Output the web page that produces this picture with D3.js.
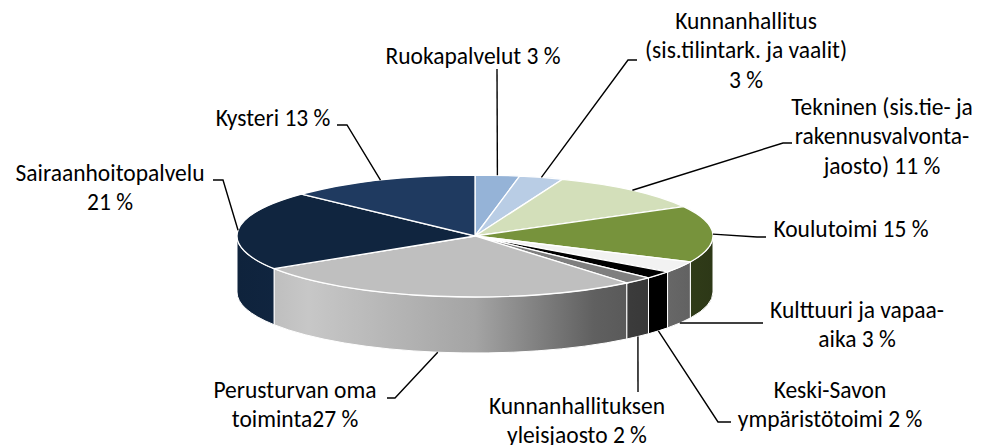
<!DOCTYPE html>
<html>
<head>
<meta charset="utf-8">
<script src="https://cdn.jsdelivr.net/npm/d3@7"></script>
<style>
  body { margin: 0; background: #fff; }
  svg text { font-family: Carlito, Calibri, Lato, sans-serif; font-size: 23.5px; fill: #000; }
</style>
</head>
<body>
<svg id="chart"></svg>
<script>
// data
const categories = ['Ruokapalvelut', 'Kunnanhallitus (sis.tilintark. ja vaalit)',
  'Tekninen (sis.tie- ja rakennusvalvonta-jaosto)', 'Koulutoimi', 'Kulttuuri ja vapaa-aika',
  'Keski-Savon ympäristötoimi', 'Kunnanhallituksen yleisjaosto', 'Perusturvan oma toiminta',
  'Sairaanhoitopalvelu', 'Kysteri'];
const values = [3, 3, 11, 15, 3, 2, 2, 27, 21, 13];
const labelLines = [
  ['Ruokapalvelut 3 %'],
  ['Kunnanhallitus', '(sis.tilintark. ja vaalit)', '3 %'],
  ['Tekninen (sis.tie- ja', 'rakennusvalvonta-', 'jaosto) 11 %'],
  ['Koulutoimi 15 %'],
  ['Kulttuuri ja vapaa-', 'aika 3 %'],
  ['Keski-Savon', 'ympäristötoimi 2 %'],
  ['Kunnanhallituksen', 'yleisjaosto 2 %'],
  ['Perusturvan oma', 'toiminta27 %'],
  ['Sairaanhoitopalvelu', '21 %'],
  ['Kysteri 13 %']
];
const colors = ['#95B3D7', '#B9CDE5', '#D3DFBA', '#77933C', '#F2F2F2',
  '#000000', '#7F7F7F', '#BFBFBF', '#10253F', '#1F3A60'];

// layout (label placement like the original chart)
const cfg = {width: 986, height: 445, cx: 475, cy: 236, rx: 238, ry: 61, depth: 56, lineH: 29.3};
const labelPos = [
  {x: 473, y: 64, path: [[497, 69]]},
  {x: 746, y: 29, path: [[628, 60], [637, 60]]},
  {x: 882, y: 115, path: [[783, 143], [792, 143]]},
  {x: 851, y: 237, path: [[757, 237], [766, 237]]},
  {x: 857, y: 318, path: [[763, 323]]},
  {x: 830, y: 398, path: [[718, 422], [731, 422]]},
  {x: 577, y: 414, path: [[638, 392]]},
  {x: 295, y: 398, path: [[395, 398], [387, 398]]},
  {x: 110, y: 181, path: [[223, 180], [213, 180]]},
  {x: 273, y: 126, path: [[347, 125], [337, 125]]}
];

const svg = d3.select('#chart').attr('width', cfg.width).attr('height', cfg.height);
const defs = svg.append('defs');

const pie = d3.pie().sort(null).value(d => d)(values);

// project an angle (0 = top, clockwise) onto the tilted ellipse
function proj(a, dy) {
  return [cfg.cx + cfg.rx * Math.sin(a), cfg.cy - cfg.ry * Math.cos(a) + (dy || 0)];
}

// lighting along the side: brighter left, darker right
const shade = d3.scaleLinear()
  .domain([0, 0.15, 0.5, 0.75, 1])
  .range([0.95, 1.04, 0.86, 0.5, 0.38]);

function scaled(c, f) {
  const r = d3.rgb(c);
  return d3.rgb(Math.min(255, r.r * f), Math.min(255, r.g * f), Math.min(255, r.b * f)).formatHex();
}

pie.forEach((p, i) => {
  const g = defs.append('linearGradient')
    .attr('id', 'side' + i)
    .attr('gradientUnits', 'userSpaceOnUse')
    .attr('x1', cfg.cx - cfg.rx).attr('x2', cfg.cx + cfg.rx)
    .attr('y1', 0).attr('y2', 0);
  shade.domain().forEach(t => {
    g.append('stop').attr('offset', t).attr('stop-color', scaled(colors[i], shade(t)));
  });
});

// side walls (front half only)
const sides = svg.append('g');
pie.forEach((p, i) => {
  const s = Math.max(p.startAngle, Math.PI / 2);
  const e = Math.min(p.endAngle, Math.PI * 3 / 2);
  if (s >= e) return;
  const p0 = proj(s), p1 = proj(e), p2 = proj(e, cfg.depth), p3 = proj(s, cfg.depth);
  const d = `M${p0}A${cfg.rx},${cfg.ry} 0 0 1 ${p1}L${p2}A${cfg.rx},${cfg.ry} 0 0 0 ${p3}Z`;
  sides.append('path')
    .attr('d', d)
    .attr('fill', `url(#side${i})`)
    .attr('stroke', '#fff')
    .attr('stroke-width', 1);
});

// top face
const arc = d3.arc().innerRadius(0).outerRadius(cfg.rx);
svg.append('g')
  .attr('transform', `translate(${cfg.cx},${cfg.cy}) scale(1,${cfg.ry / cfg.rx})`)
  .selectAll('path')
  .data(pie)
  .join('path')
  .attr('d', arc)
  .attr('fill', (d, i) => colors[i])
  .attr('stroke', '#fff')
  .attr('stroke-width', 1.3)
  .attr('vector-effect', 'non-scaling-stroke');

// leader lines
const leaders = svg.append('g');
pie.forEach((p, i) => {
  const mid = (p.startAngle + p.endAngle) / 2;
  const start = proj(mid, Math.cos(mid) < 0 ? cfg.depth : 0);
  leaders.append('path')
    .attr('d', d3.line()([start].concat(labelPos[i].path)))
    .attr('fill', 'none')
    .attr('stroke', '#000')
    .attr('stroke-width', 1.4);
});

// labels
const labels = svg.append('g');
labelLines.forEach((lines, i) => {
  const t = labels.append('text')
    .attr('text-anchor', 'middle')
    .attr('x', labelPos[i].x)
    .attr('y', labelPos[i].y);
  lines.forEach((l, k) => {
    t.append('tspan')
      .attr('x', labelPos[i].x)
      .attr('y', labelPos[i].y + k * cfg.lineH)
      .text(l);
  });
});
</script>
</body>
</html>
